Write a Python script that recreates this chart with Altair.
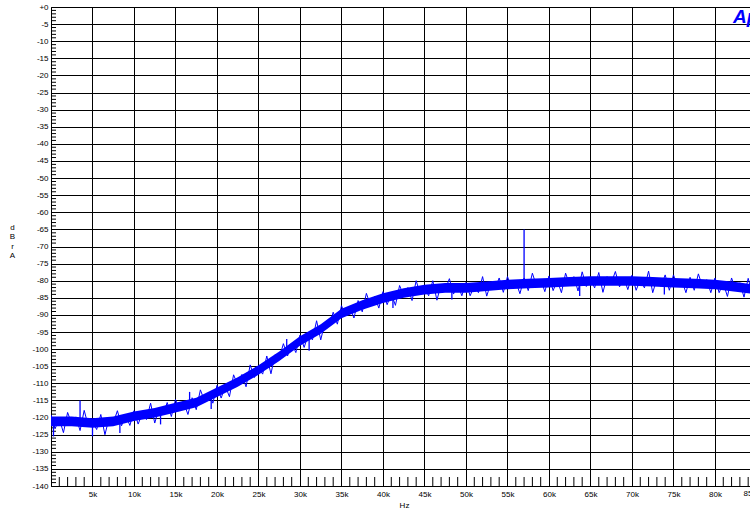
import altair as alt
import pandas as pd

# ---- data ----
# noise trace, sampled every 0.5 kHz from 0 to 85 kHz (dBr A)
trace_db = [
    -119.2, -123.2, -120.4, -124.4, -118.5, -121.8, -119.8, -123.8, -117.9, -122.5,
    -121.1, -123.5, -119.1, -125.0, -120.1, -121.6, -118.0, -122.4, -119.3, -122.3,
    -118.0, -121.9, -118.8, -120.6, -115.8, -121.6, -117.4, -119.1, -115.6, -119.7,
    -114.7, -117.8, -115.7, -119.1, -114.2, -117.7, -111.9, -115.2, -112.6, -115.8,
    -110.6, -114.3, -110.8, -113.9, -107.5, -110.5, -107.4, -111.0, -104.6, -108.3,
    -105.4, -107.3, -102.0, -107.2, -101.6, -102.7, -98.4, -102.0, -98.3, -101.0,
    -95.9, -99.5, -95.7, -97.3, -91.7, -97.3, -92.2, -93.5, -89.2, -92.7,
    -87.3, -90.2, -87.7, -90.9, -85.8, -89.1, -83.7, -87.2, -84.6, -88.0,
    -83.2, -87.0, -83.8, -87.2, -81.4, -84.4, -82.0, -85.8, -80.0, -84.1,
    -82.0, -84.4, -80.0, -85.7, -81.0, -82.6, -79.4, -83.9, -81.0, -84.4,
    -80.5, -84.4, -81.5, -83.5, -78.8, -84.5, -80.6, -82.5, -79.2, -83.4,
    -78.8, -82.1, -80.2, -83.8, -79.2, -82.9, -77.8, -81.6, -79.5, -83.2,
    -78.6, -82.9, -79.9, -83.5, -77.8, -81.3, -78.8, -83.0, -77.4, -81.7,
    -79.4, -82.1, -77.6, -83.4, -78.8, -80.7, -77.3, -81.8, -79.0, -82.6,
    -78.4, -82.8, -79.7, -82.1, -77.2, -83.5, -79.4, -81.7, -78.3, -82.8,
    -78.3, -81.7, -79.8, -83.5, -79.0, -82.8, -78.0, -81.8, -79.7, -83.5,
    -79.2, -83.5, -80.7, -84.6, -79.2, -82.7, -80.6, -84.8, -79.3, -83.8,
    -82.5,
]
trace_khz = [i * 0.5 for i in range(len(trace_db))]

# solid core of the noise band, every 2.5 kHz
band_khz = [0, 2.5, 5, 7.5, 10, 12.5, 15, 17.5, 20, 22.5, 25, 27.5, 30, 32.5, 35,
            37.5, 40, 42.5, 45, 47.5, 50, 52.5, 55, 57.5, 60, 62.5, 65, 67.5, 70,
            72.5, 75, 77.5, 80, 82.5, 85]
band_lo = [-122.5, -122.5, -123, -122.5, -121, -120, -118.5, -117, -114, -111,
           -107.5, -103.5, -99, -95.5, -91, -88.5, -86.5, -85, -84, -83.5, -83.5,
           -83, -82.5, -82.2, -82, -81.7, -81.5, -81.5, -81.5, -81.7, -82, -82.2,
           -82.5, -83.2, -84]
band_hi = [-119.7, -119.7, -120.2, -119.7, -118.2, -117.2, -115.7, -114.2, -111.2,
           -108.2, -104.7, -100.7, -96.2, -92.7, -88.2, -85.7, -83.7, -82.2, -81.2,
           -80.7, -80.7, -80.2, -79.7, -79.4, -79.2, -78.9, -78.7, -78.7, -78.7,
           -78.9, -79.2, -79.4, -79.7, -80.4, -81.2]

# isolated spikes / dips
spike_khz = [0.3, 3.5, 5.0, 8.3, 13.2, 16.7, 19.3, 28.4, 31.1, 41.2, 48.3, 57.0, 63.7, 73.9]
spike_from = [-121.0, -121.0, -121.5, -121.0, -118.0, -116.0, -113.5, -101.0, -96.5,
              -84.5, -82.0, -81.0, -80.0, -80.0]
spike_to = [-125.5, -115.0, -125.5, -124.5, -122.0, -112.5, -117.5, -97.0, -100.5,
            -88.0, -85.5, -65.0, -84.5, -84.0]

x_ticks = [5000 * i for i in range(1, 17)]
last_tick = [85000]
last_tick_label = ["85k"]
y_ticks = [-5 * i for i in range(0, 29)]

BLUE = "#0000FF"

trace = pd.DataFrame({"hz": [k * 1000 for k in trace_khz], "db": trace_db})
band = pd.DataFrame({"hz": [k * 1000 for k in band_khz], "db": band_lo, "hi": band_hi})
spikes = pd.DataFrame({"hz": [k * 1000 for k in spike_khz], "db": spike_from, "b": spike_to})
edge_label = pd.DataFrame({"hz": last_tick, "t": last_tick_label})

minor_x = pd.DataFrame({"hz": [k * 1000 for k in range(1, 85) if k % 5 != 0]})
minor_y = pd.DataFrame({"db": [d for d in range(-139, 0) if d % 5 != 0]})

# the visible window ends a little before 85 kHz (the 85k label is cut at the edge)
xs = alt.Scale(domain=[0, 84220], nice=False, zero=False)
ys = alt.Scale(domain=[-140, 0], nice=False, zero=False)

FONT = "Liberation Sans"

x_axis = alt.Axis(
    values=x_ticks, grid=True, gridColor="black", gridOpacity=1, gridWidth=1,
    tickSize=0, domain=False, labelExpr="datum.value/1000 + 'k'",
    labelFont=FONT, labelFontSize=8, labelColor="black", labelPadding=4,
    labelOverlap=False, labelBound=False, labelFlush=False,
    title="Hz", titleFont=FONT, titleFontSize=8, titleFontWeight="normal",
    titleColor="black", titlePadding=3, titleX=353,
)
y_axis = alt.Axis(
    values=y_ticks, grid=True, gridColor="black", gridOpacity=1, gridWidth=1,
    tickSize=0, domain=True, domainColor="black", domainWidth=1,
    labelExpr="datum.value == 0 ? '+0' : datum.value",
    labelFont=FONT, labelFontSize=8, labelColor="black", labelPadding=3,
    labelOverlap=False, labelBound=False, labelFlush=False,
    title=["d", "B", "r", "", "A"], titleAngle=0, titleAlign="center",
    titleBaseline="top", titleX=-39, titleY=216, titleLineHeight=9.5,
    titleFont=FONT, titleFontSize=8, titleFontWeight="normal", titleColor="black",
)


def X():
    return alt.X("hz:Q", scale=xs, axis=x_axis)


def Y():
    return alt.Y("db:Q", scale=ys, axis=y_axis)


base_grid = alt.Chart(trace).mark_line(opacity=0).encode(x=X(), y=Y())

xminor = alt.Chart(minor_x).mark_rule(color="black", strokeWidth=1).encode(
    x=X(), y=alt.value(470), y2=alt.value(479),
)
yminor = alt.Chart(minor_y).mark_rule(color="black", strokeWidth=1).encode(
    y=Y(), x=alt.value(0), x2=alt.value(5),
)

band_layer = alt.Chart(band).mark_area(color=BLUE, opacity=1, clip=True).encode(
    x=X(), y=Y(), y2="hi:Q",
)
trace_layer = alt.Chart(trace).mark_line(color=BLUE, strokeWidth=1, clip=True).encode(
    x=X(), y=Y(),
)
spike_layer = alt.Chart(spikes).mark_rule(color=BLUE, strokeWidth=1.3).encode(
    x=X(), y=Y(), y2="b:Q",
)

edge_text = alt.Chart(edge_label).mark_text(
    font=FONT, fontSize=8, color="black", align="left", baseline="top", dx=-13,
).encode(x=X(), y=alt.value(483), text="t:N")

logo = alt.Chart(pd.DataFrame({"t": ["Ap"]})).mark_text(
    color=BLUE, font=FONT, fontSize=19, fontWeight="bold", fontStyle="italic",
    align="left", baseline="middle",
).encode(text="t:N", x=alt.value(682), y=alt.value(10))

chart = alt.layer(
    base_grid, xminor, yminor, band_layer, trace_layer, spike_layer, edge_text, logo
).properties(
    width=699, height=479,
    autosize=alt.AutoSizeParams(type="none"),
    padding={"left": 51, "top": 7, "right": 0, "bottom": 28},
    background="white",
).configure_view(stroke="black", strokeWidth=1)

chart.save("out.html", embed_options={"renderer": "svg", "actions": False})
